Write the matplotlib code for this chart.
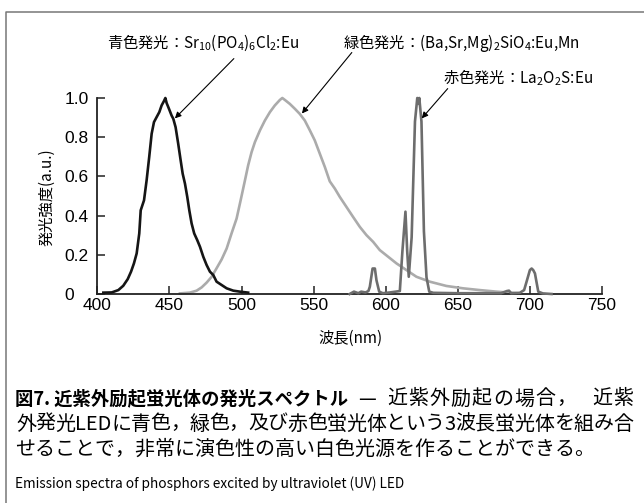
import re
import matplotlib
matplotlib.use("Agg")
import matplotlib.pyplot as plt
from matplotlib.lines import Line2D
from matplotlib.font_manager import FontProperties

FAMILY = ['Noto Sans CJK JP', 'DejaVu Sans']
plt.rcParams['font.family'] = FAMILY
plt.rcParams['mathtext.fontset'] = 'custom'
plt.rcParams['mathtext.rm'] = 'Noto Sans CJK JP'

# ---------------- data ----------------
blue_wl = [404.2, 410.0, 414.6, 418.0, 421.1, 423.4, 425.4, 427.3, 429.1, 430.1, 432.4,
           434.2, 436.0, 437.7, 439.3, 441.1, 443.0, 444.6, 446.2, 447.2, 448.1, 449.7,
           451.5, 452.7, 454.3, 456.1, 457.8, 459.2, 460.8, 462.4, 463.8, 465.4, 467.2,
           469.3, 471.2, 473.5, 475.8, 478.1, 480.4, 482.7, 486.2, 489.7, 494.3, 498.9, 504.6]
blue_int = [0.007, 0.008, 0.020, 0.042, 0.076, 0.114, 0.156, 0.207, 0.309, 0.427, 0.478,
            0.580, 0.699, 0.818, 0.877, 0.902, 0.928, 0.962, 0.984, 1.0, 0.974, 0.945,
            0.911, 0.894, 0.851, 0.767, 0.682, 0.614, 0.563, 0.495, 0.427, 0.360, 0.309,
            0.275, 0.241, 0.190, 0.148, 0.114, 0.097, 0.063, 0.046, 0.029, 0.017, 0.012, 0.007]

green_wl = [457.3, 464.2, 468.9, 472.4, 475.8, 479.3, 482.7, 486.2, 489.7, 493.1, 496.6,
            499.4, 502.4, 504.6, 507.0, 509.3, 512.8, 516.2, 519.7, 523.1, 526.6, 528.3,
            530.1, 533.5, 537.0, 540.4, 543.9, 547.4, 550.8, 554.3, 557.8, 561.2, 564.7,
            568.2, 572.8, 577.4, 582.1, 586.7, 591.3, 595.9, 601.7, 607.5, 614.4, 621.3,
            630.5, 642.1, 653.6, 665.2, 676.8, 686.0, 692.9]
green_int = [0.003, 0.007, 0.017, 0.034, 0.058, 0.088, 0.131, 0.176, 0.232, 0.309, 0.385,
             0.478, 0.580, 0.656, 0.724, 0.775, 0.835, 0.885, 0.928, 0.962, 0.99, 1.0,
             0.99, 0.970, 0.945, 0.919, 0.885, 0.835, 0.784, 0.716, 0.648, 0.575, 0.538,
             0.495, 0.444, 0.393, 0.342, 0.300, 0.266, 0.224, 0.190, 0.156, 0.122, 0.088,
             0.063, 0.041, 0.029, 0.020, 0.012, 0.007, 0.003]

red_wl = [575, 578, 581, 583, 586, 588, 589, 590.9, 592.5, 593.6, 595.5, 598, 603,
          609.8, 611.6, 613.7, 614.9, 616.0, 618.0, 620.3, 621.9, 622.6, 623.3, 624.8,
          626.5, 628.3, 630.2, 633, 650, 680, 684, 685.5, 687, 693, 696, 697.7, 700,
          701.2, 702.3, 703.5, 705.8, 709, 715]
red_int = [0.0, 0.012, 0.004, 0.012, 0.008, 0.015, 0.037, 0.13, 0.13, 0.07, 0.012, 0.004, 0.008,
           0.015, 0.22, 0.42, 0.22, 0.088, 0.29, 0.88, 1.0, 0.97, 1.0, 0.88,
           0.32, 0.085, 0.012, 0.006, 0.004, 0.004, 0.015, 0.017, 0.004, 0.006, 0.02, 0.063, 0.122,
           0.13, 0.122, 0.105, 0.012, 0.003, 0.0]

x_ticks = [400, 450, 500, 550, 600, 650, 700, 750]
y_ticks = [0, 0.2, 0.4, 0.6, 0.8, 1.0]
y_tick_labels = ['0', '0.2', '0.4', '0.6', '0.8', '1.0']

label_blue = '青色発光：Sr$_{10}$(PO$_4$)$_6$Cl$_2$:Eu'
label_green = '緑色発光：(Ba,Sr,Mg)$_2$SiO$_4$:Eu,Mn'
label_red = '赤色発光：La$_2$O$_2$S:Eu'

xlabel = '波長(nm)'
ylabel = '発光強度(a.u.)'

cap_bold = '図7. 近紫外励起蛍光体の発光スペクトル'
cap_l1 = '— 近紫外励起の場合，近紫'
cap_l2 = '外発光LEDに青色，緑色，及び赤色蛍光体という3波長蛍光体を組み合'
cap_line3 = 'せることで，非常に演色性の高い白色光源を作ることができる。'
cap_en = 'Emission spectra of phosphors excited by ultraviolet (UV) LED'

# ---------------- figure ----------------
W, H = 644, 503
fig = plt.figure(figsize=(W / 100, H / 100), dpi=100)
renderer = fig.canvas.get_renderer()

def fx(x):
    return x / W

def fy(y):
    return 1 - y / H

ax = fig.add_axes([fx(97.3), fy(294), fx(602) - fx(97.3), fy(98) - fy(294)])
ax.set_xlim(400, 750)
ax.set_ylim(0, 1.0)

ax.plot(green_wl, green_int, color='#ababab', lw=1.9, clip_on=False, zorder=2,
        solid_joinstyle='round')
ax.plot(red_wl, red_int, color='#6d6d6d', lw=1.9, clip_on=False, zorder=3,
        solid_joinstyle='round')
ax.plot(blue_wl, blue_int, color='#151515', lw=1.9, clip_on=False, zorder=4,
        solid_joinstyle='round')

for s in ['top', 'right']:
    ax.spines[s].set_visible(False)
for s in ['left', 'bottom']:
    ax.spines[s].set_linewidth(1.3)
    ax.spines[s].set_color('#222222')

ax.set_xticks(x_ticks)
ax.set_xticklabels([str(v) for v in x_ticks], fontfamily='Liberation Sans', fontsize=12.5)
ax.set_yticks(y_ticks)
ax.set_yticklabels(y_tick_labels, fontfamily='Liberation Sans', fontsize=12.5)
ax.tick_params(axis='both', direction='in', length=6, width=1.1, color='#222222')
ax.tick_params(axis='x', pad=3)
ax.tick_params(axis='y', pad=23.5)
for lab in ax.get_yticklabels():
    lab.set_horizontalalignment('left')

fig.text(fx(350), fy(338), xlabel, ha='center', va='center', fontsize=11)
fig.text(fx(47), fy(197), ylabel, ha='center', va='center', rotation=90, fontsize=11)

# annotations
fig.text(fx(107), fy(43), label_blue, ha='left', va='center', fontsize=11)
fig.text(fx(343), fy(43), label_green, ha='left', va='center', fontsize=11)
fig.text(fx(443), fy(78), label_red, ha='left', va='center', fontsize=11)

arrow_kw = dict(arrowstyle='-|>', color='black', lw=0.8, mutation_scale=9,
                shrinkA=0, shrinkB=0)
ax.annotate('', xy=(453.8, 0.896), xytext=(494.7, 1.201),
            arrowprops=arrow_kw, annotation_clip=False)
ax.annotate('', xy=(541.9, 0.921), xytext=(576.5, 1.232),
            arrowprops=arrow_kw, annotation_clip=False)
ax.annotate('', xy=(625.0, 0.896), xytext=(643.0, 1.048),
            arrowprops=arrow_kw, annotation_clip=False)

# border (top and left only)
fig.add_artist(Line2D([fx(6), fx(6), 1.0], [0.0, fy(11.7), fy(11.7)],
                      transform=fig.transFigure, color='#777777', lw=1.1))

# caption
BODY = 14.4
X0, X1 = 15, 632


def tw(s, prop):
    return renderer.get_text_width_height_descent(s, prop, ismath=False)[0]


def justify_chars(y, s, x_start, x_end, size, weight='normal', wmap=None):
    """Japanese-style justification: extra space spread between glyphs."""
    prop = FontProperties(family=FAMILY, size=size, weight=weight)
    em = size * 100 / 72.0
    base2 = tw('囗囗', prop)
    adv_box = tw('囗囗囗', prop) - base2
    lsb_box = 0.06 * em
    tokens = re.findall(r'[A-Za-z]+|.', s)
    advs, inkl = [], []
    for t in tokens:
        advs.append(tw('囗' + t + '囗', prop) - base2)
        if t.strip():
            inkl.append(tw('囗' + t, prop) - adv_box + lsb_box - tw(t, prop))
        else:
            inkl.append(0)
    wmap = wmap or {}
    weights = [wmap.get(t, 1.0) for t in tokens[:-1]]
    extra = (x_end - x_start) - sum(advs)
    unit = extra / sum(weights)
    x = x_start
    for i, t in enumerate(tokens):
        if t.strip():
            fig.text((x + inkl[i]) / W, fy(y), t, ha='left', va='center',
                     fontsize=size, fontweight=weight)
        x += advs[i]
        if i < len(weights):
            x += unit * weights[i]


Y1, Y2, Y3, Y4 = 399, 424, 449, 484
t1 = fig.text(fx(X0), fy(Y1), cap_bold, ha='left', va='center', fontsize=13.2,
              fontweight='bold')
bx = t1.get_window_extent(renderer).x1
justify_chars(Y1, cap_l1, bx + 9, X1, BODY,
              wmap={'，': 6.0, '—': 2.0, ' ': 0.5, '近': 0.4, '紫': 0.4, '外': 0.4,
                    '励': 0.4, '起': 0.4, 'の': 0.4, '場': 0.4, '合': 0.4})
justify_chars(Y2, cap_l2, X0, X1, BODY, wmap={'，': 3.0})
fig.text(fx(X0), fy(Y3), cap_line3, ha='left', va='center', fontsize=BODY)
fig.text(fx(X0), fy(Y4), cap_en, ha='left', va='center', fontsize=9.8)

fig.savefig('out.png', dpi=100)
